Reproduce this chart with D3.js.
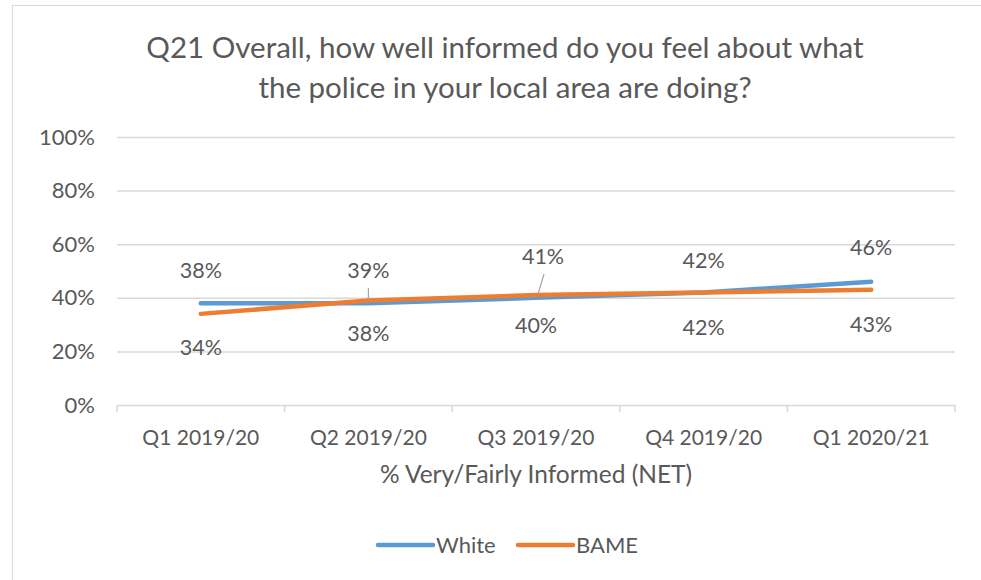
<!DOCTYPE html>
<html><head><meta charset="utf-8">
<script src="https://cdn.jsdelivr.net/npm/d3@7"></script>
<style>body{margin:0;background:#fff;}svg{display:block;font-family:Lato, "Liberation Sans", sans-serif;}</style>
</head><body><svg id="c" width="981" height="580"></svg>
<script>
const categories = ["Q1 2019/20","Q2 2019/20","Q3 2019/20","Q4 2019/20","Q1 2020/21"];
const whiteValues = [38,38,40,42,46];
const bameValues = [34,39,41,42,43];
const yTicks = [0,20,40,60,80,100];
const titleLines = ["Q21 Overall, how well informed do you feel about what","the police in your local area are doing?"];
const xTitle = "% Very/Fairly Informed (NET)";

const svg = d3.select("#c");
const txt = "#595959";
svg.append("rect").attr("x",12.5).attr("y",5.5).attr("width",1000).attr("height",600).attr("fill","#fff").attr("stroke","#d9d9d9");

const m = {l:117,r:955,t:137,b:405};
const x = d3.scaleBand().domain(categories).range([m.l,m.r]);
const y = d3.scaleLinear().domain([0,100]).range([m.b,m.t]);

// title
svg.append("g").selectAll("text").data(titleLines).join("text")
 .attr("x",505).attr("y",(d,i)=>58+i*40).attr("text-anchor","middle")
 .attr("fill",txt).attr("font-size",29.5).text(d=>d);

// grid
const yAxis = d3.axisLeft(y).tickValues(yTicks).tickSize(-(m.r-m.l)).tickFormat(d=>d+"%").tickPadding(22);
const gy = svg.append("g").attr("transform",`translate(${m.l},0)`).call(yAxis);
gy.select(".domain").remove();
gy.selectAll(".tick line").attr("stroke","#d9d9d9").attr("stroke-width",1.5);
gy.selectAll(".tick text").attr("fill",txt).attr("font-size",22).attr("font-family","Lato, sans-serif");
gy.selectAll(".tick").filter(d=>d===0).select("line").remove();

const xAxis = d3.axisBottom(x).tickSize(0).tickPadding(25);
const gx = svg.append("g").attr("transform",`translate(0,${m.b})`).call(xAxis);
gx.select(".domain").attr("stroke","#d9d9d9").attr("stroke-width",1.5);
gx.selectAll(".tick text").attr("fill",txt).attr("font-size",21).attr("font-family","Lato, sans-serif");
// category tick marks at band edges
const edges = categories.map(c=>x(c)).concat([x(categories[categories.length-1])+x.bandwidth()]);
svg.append("g").selectAll("line").data(edges).join("line")
 .attr("x1",d=>d).attr("x2",d=>d).attr("y1",m.b).attr("y2",m.b+7)
 .attr("stroke","#d9d9d9").attr("stroke-width",1.5);

svg.append("text").attr("x",(m.l+m.r)/2).attr("y",483).attr("text-anchor","middle")
 .attr("fill",txt).attr("font-size",24.5).text(xTitle);

const cx = c=>x(c)+x.bandwidth()/2;
const line = d3.line().x((d,i)=>cx(categories[i])).y(d=>y(d));
const series = [
 {name:"White",vals:whiteValues,color:"#5B9BD5"},
 {name:"BAME",vals:bameValues,color:"#ED7D31"}
];
series.forEach(s=>{
 svg.append("path").datum(s.vals).attr("d",line).attr("fill","none")
  .attr("stroke",s.color).attr("stroke-width",4.5).attr("stroke-linecap","round").attr("stroke-linejoin","round");
});
// leader lines
svg.append("line").attr("x1",cx(categories[1])).attr("x2",cx(categories[1])).attr("y1",288).attr("y2",y(bameValues[1])-1).attr("stroke","#a6a6a6").attr("stroke-width",1.2);
svg.append("line").attr("x1",cx(categories[2])+8).attr("x2",cx(categories[2])+2).attr("y1",274).attr("y2",y(bameValues[2])-1).attr("stroke","#a6a6a6").attr("stroke-width",1.2);

// labels (offset from point, to label centre)
const labelOffsets = {
 White:[-33,30,28,-32,-34],
 BAME:[34,-30,-39,35,35]
};
const labelDx = {White:[0,0,0,0,0],BAME:[0,0,7,0,0]};
series.forEach(s=>{
 svg.append("g").selectAll("text").data(s.vals).join("text")
  .attr("x",(d,i)=>cx(categories[i])+labelDx[s.name][i])
  .attr("y",(d,i)=>y(d)+labelOffsets[s.name][i]+7.5)
  .attr("text-anchor","middle").attr("fill",txt).attr("font-size",21.5).text(d=>d+"%");
});

// legend
const lg = svg.append("g").attr("transform","translate(0,545)");
const lx = [378,518];
series.forEach((s,i)=>{
 lg.append("line").attr("x1",lx[i]).attr("x2",lx[i]+55).attr("y1",0).attr("y2",0).attr("stroke",s.color).attr("stroke-width",4.5).attr("stroke-linecap","round");
 lg.append("text").attr("x",lx[i]+58).attr("y",8).attr("fill",txt).attr("font-size",22).text(s.name);
});
</script></body></html>
